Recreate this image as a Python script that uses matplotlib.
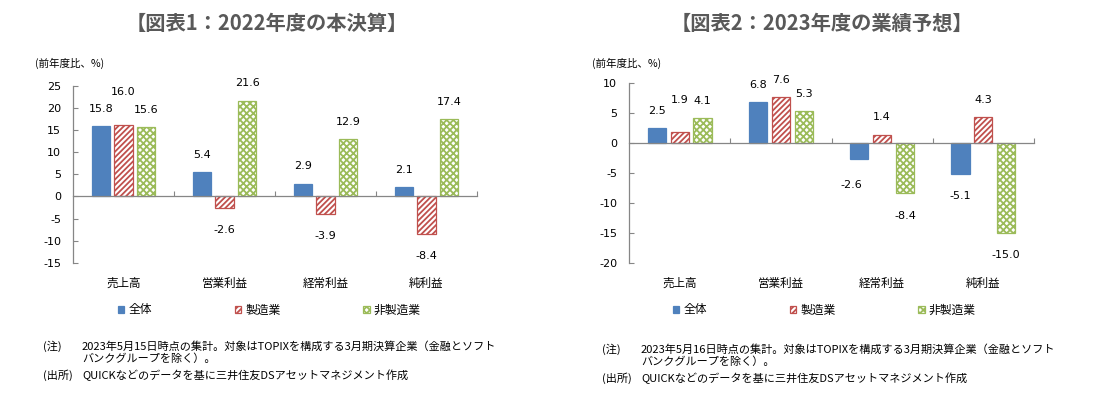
import matplotlib
matplotlib.use('Agg')
import matplotlib.pyplot as plt
import numpy as np

plt.rcParams['axes.unicode_minus'] = False
plt.rcParams['hatch.linewidth'] = 1.3

# ---------------- data ----------------
categories = ['売上高', '営業利益', '経常利益', '純利益']
series_names = ['全体', '製造業', '非製造業']

fy2022_total = [15.8, 5.4, 2.9, 2.1]
fy2022_mfg = [16.0, -2.6, -3.9, -8.4]
fy2022_nonmfg = [15.6, 21.6, 12.9, 17.4]

fy2023_total = [2.5, 6.8, -2.6, -5.1]
fy2023_mfg = [1.9, 7.6, 1.4, 4.3]
fy2023_nonmfg = [4.1, 5.3, -8.4, -15.0]

titles = ['【図表1：2022年度の本決算】', '【図表2：2023年度の業績予想】']
unit_label = '(前年度比、%)'
yticks_left = [25, 20, 15, 10, 5, 0, -5, -10, -15]
yticks_right = [10, 5, 0, -5, -10, -15, -20]

note_tag = '(注)'
source_tag = '(出所)'
notes_left = ['2023年5月15日時点の集計。対象はTOPIXを構成する3月期決算企業（金融とソフト',
              'バンクグループを除く）。']
notes_right = ['2023年5月16日時点の集計。対象はTOPIXを構成する3月期決算企業（金融とソフト',
               'バンクグループを除く）。']
source_text = 'QUICKなどのデータを基に三井住友DSアセットマネジメント作成'

# ---------------- style ----------------
BLUE = '#4F81BD'
RED = '#C0504D'
GREEN = '#9BBB59'
AXC = '#868686'
TITLEC = '#595959'
JP = ['Noto Sans CJK JP', 'DejaVu Sans']
NUM = ['DejaVu Sans']

W, H = 1118, 397
fig = plt.figure(figsize=(W / 100, H / 100), dpi=100)


def fx(px):
    return px / W


def fy(py):
    return 1 - py / H


def draw(ax, data, yticks, nudges, legend_left_px, legend_y_px):
    x = np.arange(len(categories))
    offsets = [-0.225, 0.0, 0.225]
    width = 0.18
    styles = [dict(facecolor=BLUE, edgecolor=BLUE, hatch=None),
              dict(facecolor='white', edgecolor=RED, hatch='//////'),
              dict(facecolor='white', edgecolor=GREEN, hatch='xxxxx')]
    handles = []
    for i, (vals, st) in enumerate(zip(data, styles)):
        bars = ax.bar(x + offsets[i], vals, width, linewidth=0.9,
                      label=series_names[i], zorder=2, **st)
        handles.append(bars)
        for j, (b, v) in enumerate(zip(bars, vals)):
            dx, dy = 0, (12.5 if v >= 0 else -16)
            if (i, j) in nudges:
                ddx, ddy = nudges[(i, j)]
                dx += ddx
                dy += ddy
            ax.annotate(f'{v:.1f}', (b.get_x() + b.get_width() / 2, v),
                        xytext=(dx, dy), textcoords='offset points',
                        ha='center', va='center', fontsize=8, family=NUM,
                        color='black')
    ymin, ymax = min(yticks), max(yticks)
    ax.set_ylim(ymin, ymax)
    ax.set_xlim(-0.5, len(categories) - 0.5)
    ax.set_yticks(yticks)
    ax.set_yticklabels([str(t) for t in yticks], family=NUM, fontsize=8)
    ax.set_xticks(np.arange(len(categories)) + 0.5)
    ax.set_xticklabels([])
    for s in ['top', 'right']:
        ax.spines[s].set_visible(False)
    ax.spines['left'].set_color(AXC)
    ax.spines['bottom'].set_color(AXC)
    ax.spines['left'].set_linewidth(0.9)
    ax.spines['bottom'].set_linewidth(0.9)
    ax.spines['bottom'].set_position(('data', 0))
    ax.spines['bottom'].set_zorder(3)
    ax.tick_params(axis='y', direction='in', length=3.5, color=AXC, pad=8.5,
                   labelcolor='black')
    ax.tick_params(axis='x', direction='in', length=3.5, color=AXC)
    ax.set_facecolor('none')
    for xi, c in zip(x, categories):
        ax.annotate(c, (xi, 0), xycoords=('data', 'axes fraction'),
                    xytext=(0, -14.5), textcoords='offset points',
                    ha='center', va='center', fontsize=8.3, family=JP)
    ax.legend(handles, series_names, loc='center left',
              bbox_to_anchor=(fx(legend_left_px), fy(legend_y_px)),
              bbox_transform=fig.transFigure, ncol=3, frameon=False,
              borderpad=0, borderaxespad=0, handlelength=0.55,
              handleheight=0.55, handletextpad=0.35, columnspacing=7.0,
              prop=dict(family=JP, size=8.5))


ax1 = fig.add_axes([fx(73), fy(263), 404 / W, (263 - 85.5) / H])
ax2 = fig.add_axes([fx(629), fy(263), 405 / W, (263 - 83) / H])

draw(ax1, [fy2022_total, fy2022_mfg, fy2022_nonmfg], yticks_left,
     {(1, 0): (0, 11.5)}, 118, 310)
draw(ax2, [fy2023_total, fy2023_mfg, fy2023_nonmfg], yticks_right,
     {(1, 0): (0, 10), (0, 2): (-6, -3)}, 673, 310)

# titles
fig.text(fx(267), fy(23), titles[0], ha='center', va='center', fontsize=14.6,
         weight='bold', color=TITLEC, family=JP)
fig.text(fx(822), fy(23), titles[1], ha='center', va='center', fontsize=14.6,
         weight='bold', color=TITLEC, family=JP)

# unit labels
fig.text(fx(35), fy(63), unit_label, ha='left', va='center', fontsize=7.6, family=JP)
fig.text(fx(592), fy(63), unit_label, ha='left', va='center', fontsize=7.6, family=JP)

# notes
for base_x, base_y, lines in [(43, 346, notes_left), (602, 349, notes_right)]:
    fig.text(fx(base_x), fy(base_y), note_tag, ha='left', va='center',
             fontsize=8, family=JP)
    fig.text(fx(base_x + 39), fy(base_y), lines[0], ha='left', va='center',
             fontsize=8, family=JP)
    fig.text(fx(base_x + 39), fy(base_y + 13), lines[1], ha='left', va='center',
             fontsize=8, family=JP)
    fig.text(fx(base_x), fy(base_y + 29), source_tag, ha='left', va='center',
             fontsize=8, family=JP)
    fig.text(fx(base_x + 39), fy(base_y + 29), source_text, ha='left', va='center',
             fontsize=8, family=JP)

fig.savefig('out.png', dpi=100)
